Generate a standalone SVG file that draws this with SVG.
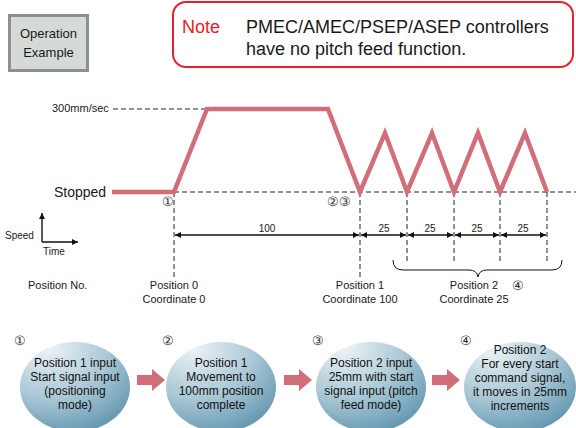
<svg xmlns="http://www.w3.org/2000/svg" width="576" height="428" viewBox="0 0 576 428">
<defs>
<style>
text{font-family:"Liberation Sans",Arial,sans-serif;fill:#1a1a1a}
.dash{stroke:#222;stroke-width:1;stroke-dasharray:5,3;fill:none}
.dim{stroke:#111;stroke-width:1.4;fill:none}
.c{font-size:13px;fill:#333}
.lbl{font-size:11px;text-anchor:middle}
.et{font-size:12px;text-anchor:middle;fill:#111}
.pk{fill:#d26e78}
</style>
<marker id="ah" viewBox="0 0 10 10" refX="10" refY="5" markerWidth="8" markerHeight="6" orient="auto-start-reverse" markerUnits="userSpaceOnUse"><path d="M0,0L10,5L0,10z" fill="#111"/></marker>
<radialGradient id="eg" cx="0.3" cy="0.15" r="0.95" fx="0.25" fy="0.05">
<stop offset="0" stop-color="#eef4f7"/>
<stop offset="0.55" stop-color="#a9c7d5"/>
<stop offset="1" stop-color="#5d93ad"/>
</radialGradient>
</defs>

<g id="operation-example">
<rect x="9.5" y="15.5" width="78" height="55" fill="#d5dad7" stroke="#8a928b" stroke-width="3"/>
<text x="48.5" y="38" font-size="13" text-anchor="middle">Operation</text>
<text x="48.5" y="57" font-size="13" text-anchor="middle">Example</text>
</g>

<g id="note">
<rect x="173" y="2" width="400" height="65" rx="13" fill="#fff" stroke="#e8202a" stroke-width="2"/>
<text x="182" y="33" font-size="18" style="fill:#e8202a">Note</text>
<text x="246" y="33" font-size="18">PMEC/AMEC/PSEP/ASEP controllers</text>
<text x="246" y="55" font-size="18">have no pitch feed function.</text>
</g>

<g id="axes-legend">
<text x="52" y="112" font-size="11">300mm/sec</text>
<text x="54" y="197" font-size="14">Stopped</text>
<line x1="42" y1="242" x2="42" y2="213" stroke="#111" stroke-width="1.4" marker-end="url(#ah)"/>
<line x1="42" y1="242" x2="78" y2="242" stroke="#111" stroke-width="1.4" marker-end="url(#ah)"/>
<text x="5" y="239" font-size="10">Speed</text>
<text x="43" y="255" font-size="10">Time</text>
<text x="28" y="289" font-size="11">Position No.</text>
</g>

<g id="connectors">
<line class="dash" x1="113" y1="109" x2="206" y2="109"/>
<line class="dash" x1="174" y1="192" x2="576" y2="192"/>
<line class="dash" x1="174" y1="192" x2="174" y2="277"/>
<line class="dash" x1="360" y1="192" x2="360" y2="277"/>
<line class="dash" x1="407" y1="192" x2="407" y2="263"/>
<line class="dash" x1="454" y1="192" x2="454" y2="263"/>
<line class="dash" x1="500" y1="192" x2="500" y2="263"/>
<line class="dash" x1="547" y1="192" x2="547" y2="263"/>
<polyline points="112,192 174,192 207,109 328,109 360,192 385,133 407,192 432,133 454,192 478,133 500,192 525,133 547,192" fill="none" stroke="#d26e78" stroke-width="4.5" stroke-linejoin="miter"/>
<line class="dim" x1="175" y1="235" x2="359" y2="235" marker-start="url(#ah)" marker-end="url(#ah)"/>
<line class="dim" x1="361" y1="235" x2="406" y2="235" marker-start="url(#ah)" marker-end="url(#ah)"/>
<line class="dim" x1="408" y1="235" x2="453" y2="235" marker-start="url(#ah)" marker-end="url(#ah)"/>
<line class="dim" x1="455" y1="235" x2="499" y2="235" marker-start="url(#ah)" marker-end="url(#ah)"/>
<line class="dim" x1="501" y1="235" x2="546" y2="235" marker-start="url(#ah)" marker-end="url(#ah)"/>
<path d="M393,260 Q393,270 403,270 L469,270 Q477,270 478,277 Q479,270 487,270 L552,270 Q562,270 562,260" fill="none" stroke="#111" stroke-width="1"/>
<path class="pk" d="M137,375 L152,375 L152,369 L165,380 L152,391 L152,385 L137,385 Z"/>
<path class="pk" d="M284,375 L299,375 L299,369 L312,380 L299,391 L299,385 L284,385 Z"/>
<path class="pk" d="M432,375 L447,375 L447,369 L460,380 L447,391 L447,385 L432,385 Z"/>
</g>

<g id="chart-labels">
<text class="c" x="162" y="206">①</text>
<text class="c" x="327" y="206">②③</text>
<text x="267" y="232" font-size="10" text-anchor="middle">100</text>
<text x="384" y="232" font-size="10" text-anchor="middle">25</text>
<text x="430" y="232" font-size="10" text-anchor="middle">25</text>
<text x="477" y="232" font-size="10" text-anchor="middle">25</text>
<text x="523" y="232" font-size="10" text-anchor="middle">25</text>
<text class="lbl" x="474" y="289">Position 2</text>
<text class="c" x="512" y="290">④</text>
<text class="lbl" x="174" y="289">Position 0</text>
<text class="lbl" x="174" y="303">Coordinate 0</text>
<text class="lbl" x="360" y="289">Position 1</text>
<text class="lbl" x="360" y="303">Coordinate 100</text>
<text class="lbl" x="474" y="303">Coordinate 25</text>
</g>

<g id="step1">
<text class="c" x="14" y="345">①</text>
<ellipse cx="75" cy="387" rx="55" ry="45" fill="url(#eg)"/>
<text class="et" x="75" y="367">Position 1 input</text>
<text class="et" x="75" y="381">Start signal input</text>
<text class="et" x="75" y="395">(positioning</text>
<text class="et" x="75" y="409">mode)</text>
</g>
<g id="step2">
<text class="c" x="162" y="345">②</text>
<ellipse cx="221" cy="387" rx="55" ry="45" fill="url(#eg)"/>
<text class="et" x="221" y="367">Position 1</text>
<text class="et" x="221" y="381">Movement to</text>
<text class="et" x="221" y="395">100mm position</text>
<text class="et" x="221" y="409">complete</text>
</g>
<g id="step3">
<text class="c" x="312" y="345">③</text>
<ellipse cx="371" cy="387" rx="55" ry="45" fill="url(#eg)"/>
<text class="et" x="371" y="367">Position 2 input</text>
<text class="et" x="371" y="381">25mm with start</text>
<text class="et" x="371" y="395">signal input (pitch</text>
<text class="et" x="371" y="409">feed mode)</text>
</g>
<g id="step4">
<text class="c" x="460" y="345">④</text>
<ellipse cx="520" cy="387" rx="56" ry="45" fill="url(#eg)"/>
<text class="et" x="520" y="354">Position 2</text>
<text class="et" x="520" y="368">For every start</text>
<text class="et" x="520" y="382">command signal,</text>
<text class="et" x="520" y="396">it moves in 25mm</text>
<text class="et" x="520" y="410">increments</text>
</g>
</svg>
